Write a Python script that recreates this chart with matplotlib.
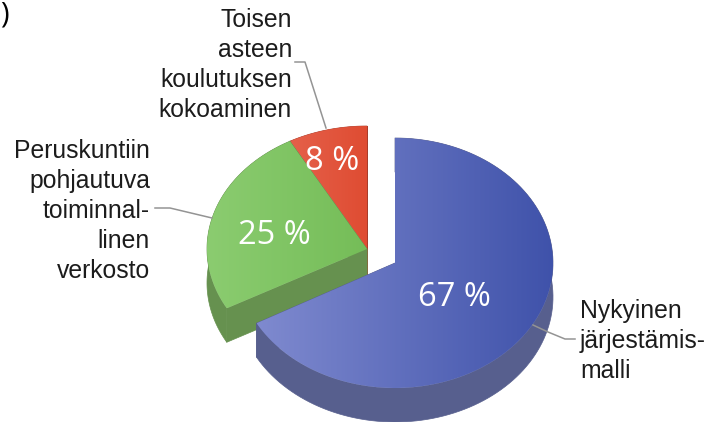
#!/usr/bin/env python3
"""Exploded 3D-look pie chart, drawn in pixel coordinates"""

import numpy as np
import matplotlib
matplotlib.use('Agg')
import matplotlib.pyplot as plt
from matplotlib.collections import PolyCollection
from matplotlib.patches import PathPatch
from matplotlib.path import Path
from matplotlib.colors import LinearSegmentedColormap

# Data
shares = [67, 25, 8]
share_labels = ['67 %', '25 %', '8 %']
label_lines = [
    ['Nykyinen', 'järjestämis-', 'malli'],
    ['Peruskuntiin', 'pohjautuva', 'toiminnal-', 'linen', 'verkosto'],
    ['Toisen', 'asteen', 'koulutuksen', 'kokoaminen'],
]

# Styles, one entry per slice
centers = [(395, 263), (367, 249), (367, 249)]
radii = [(158, 125), (160, 123), (160, 123)]
grad_colors = [('#7f8acf', '#3f52aa'), ('#8bcc70', '#75bd58'), ('#e5604a', '#df4c32')]
side_colors = ['#575f8e', '#66914f', '#a83c2a']
share_pos = [(454, 298), (274, 235), (332, 162)]
label_pos = [(580, 311, 'left'), (150, 151, 'right'), (292, 20, 'right')]
leaders = [
    [(533, 325), (548, 332), (565, 339), (575, 339)],
    [(155, 208), (170, 208), (212, 218)],
    [(295, 62), (305, 62), (326, 128)],
]
DEPTH = 34
LINE_STEP = 30


def slice_outline(center, radius, start, end):
    """Closed outline of a slice; angles in degrees clockwise from the top"""
    t = np.radians(np.linspace(start, end, 120))
    x = center[0] + radius[0] * np.sin(t)
    y = center[1] - radius[1] * np.cos(t)
    return np.vstack([[center], np.column_stack([x, y]), [center]])


def extrude(points):
    """Polygon swept by a run of outline points when pushed down by DEPTH"""
    return np.vstack([points, points[::-1] + (0, DEPTH)])


def main():
    plt.rcParams['font.family'] = ['Liberation Sans', 'DejaVu Sans']

    fig = plt.figure(figsize=(7.13, 4.22), dpi=100)
    ax = fig.add_axes([0, 0, 1, 1])

    edges = np.cumsum([0] + shares) / sum(shares) * 360

    # Draw back slices first so the front ones cover them
    for i in [2, 1, 0]:
        outline = slice_outline(centers[i], radii[i], edges[i], edges[i + 1])

        # Side wall: the two cut faces and the curved rim as whole polygons
        walls = [extrude(outline[:2]), extrude(outline[1:-1]), extrude(outline[-2:])]
        ax.add_collection(PolyCollection(walls, facecolors=side_colors[i],
                                         edgecolors=side_colors[i], linewidths=0.5,
                                         zorder=1 + 3 * (2 - i)))

        # Top face: horizontal gradient clipped to the slice
        cmap = LinearSegmentedColormap.from_list(f'slice{i}', grad_colors[i])
        x0, x1 = outline[:, 0].min(), outline[:, 0].max()
        y0, y1 = outline[:, 1].min(), outline[:, 1].max()
        im = ax.imshow(np.linspace(0, 1, 256).reshape(1, -1), cmap=cmap, aspect='auto',
                       extent=(x0, x1, y1, y0), zorder=2 + 3 * (2 - i))
        clip = PathPatch(Path(outline), facecolor='none', edgecolor='none',
                         transform=ax.transData)
        ax.add_patch(clip)
        im.set_clip_path(clip)

    # Leader lines
    for pts in leaders:
        xs, ys = zip(*pts)
        ax.plot(xs, ys, color='#949494', linewidth=1.1, zorder=20)

    # Percent labels
    for text, (x, y) in zip(share_labels, share_pos):
        ax.text(x, y, text, color='white', fontsize=23.5, family=['Open Sans', 'DejaVu Sans'],
                ha='center', va='center', zorder=21)

    # Category labels, one text per line to hold the line spacing
    for lines, (x, y, ha) in zip(label_lines, label_pos):
        for n, line in enumerate(lines):
            ax.text(x, y + n * LINE_STEP, line, color='#1c1c1c', fontsize=17.8,
                    ha=ha, va='center', zorder=21)

    # Stray bracket left over in the top corner of the source
    ax.text(0, 15, ')', color='black', fontsize=21, family=['Open Sans', 'DejaVu Sans'],
            ha='left', va='center')

    ax.set_xlim(0, 713)
    ax.set_ylim(422, 0)
    ax.axis('off')

    fig.savefig('out.png', dpi=100, facecolor='white')
    plt.close(fig)


if __name__ == "__main__":
    main()
